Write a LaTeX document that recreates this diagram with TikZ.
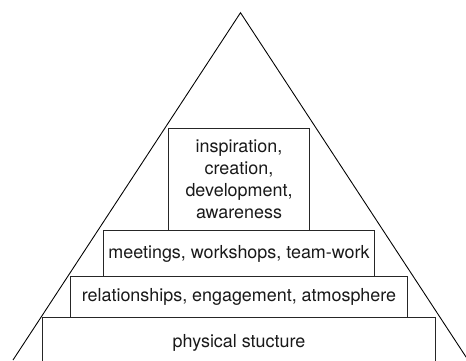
\documentclass[tikz,border=0pt]{standalone}
\usepackage{fontspec}
\setmainfont{TeX Gyre Heros}
\usepackage{tikz}
\usetikzlibrary{positioning}

\begin{document}
\begin{tikzpicture}[
    x=0.02cm, y=0.02cm,
    font=\fontsize{10.2}{12.5}\selectfont,
    box/.style={draw=black!85, line width=0.8pt, outer sep=0pt,
                inner sep=0pt, align=center, text=black!90},
    edge/.style={line width=0.5pt, black}
]
\useasboundingbox (0,0) rectangle (466,360);
\clip (0,0) rectangle (466,360);

%% ---- outline of the pyramid ------------------------------------
\coordinate (apex)  at (240.5,347.3);
\coordinate (baseL) at (13,0);
\coordinate (baseR) at (468,0);
\draw[edge] (baseL) -- (apex) -- (baseR);

%% ---- layers, bottom to top -------------------------------------
\node[box, minimum width=7.86cm, minimum height=1.01cm] (phys)
    at (239,17) {physical stucture};
\node[box, minimum width=6.75cm, minimum height=0.83cm, above=0pt of phys] (rel)
    {relationships, engagement, atmosphere};
\node[box, minimum width=5.43cm, minimum height=0.91cm, above=0pt of rel] (meet)
    {meetings, workshops, team-work};
\node[box, minimum width=2.83cm, minimum height=2.05cm, above=0pt of meet] (insp)
    {inspiration,\\creation,\\development,\\awareness};

\end{tikzpicture}
\end{document}
